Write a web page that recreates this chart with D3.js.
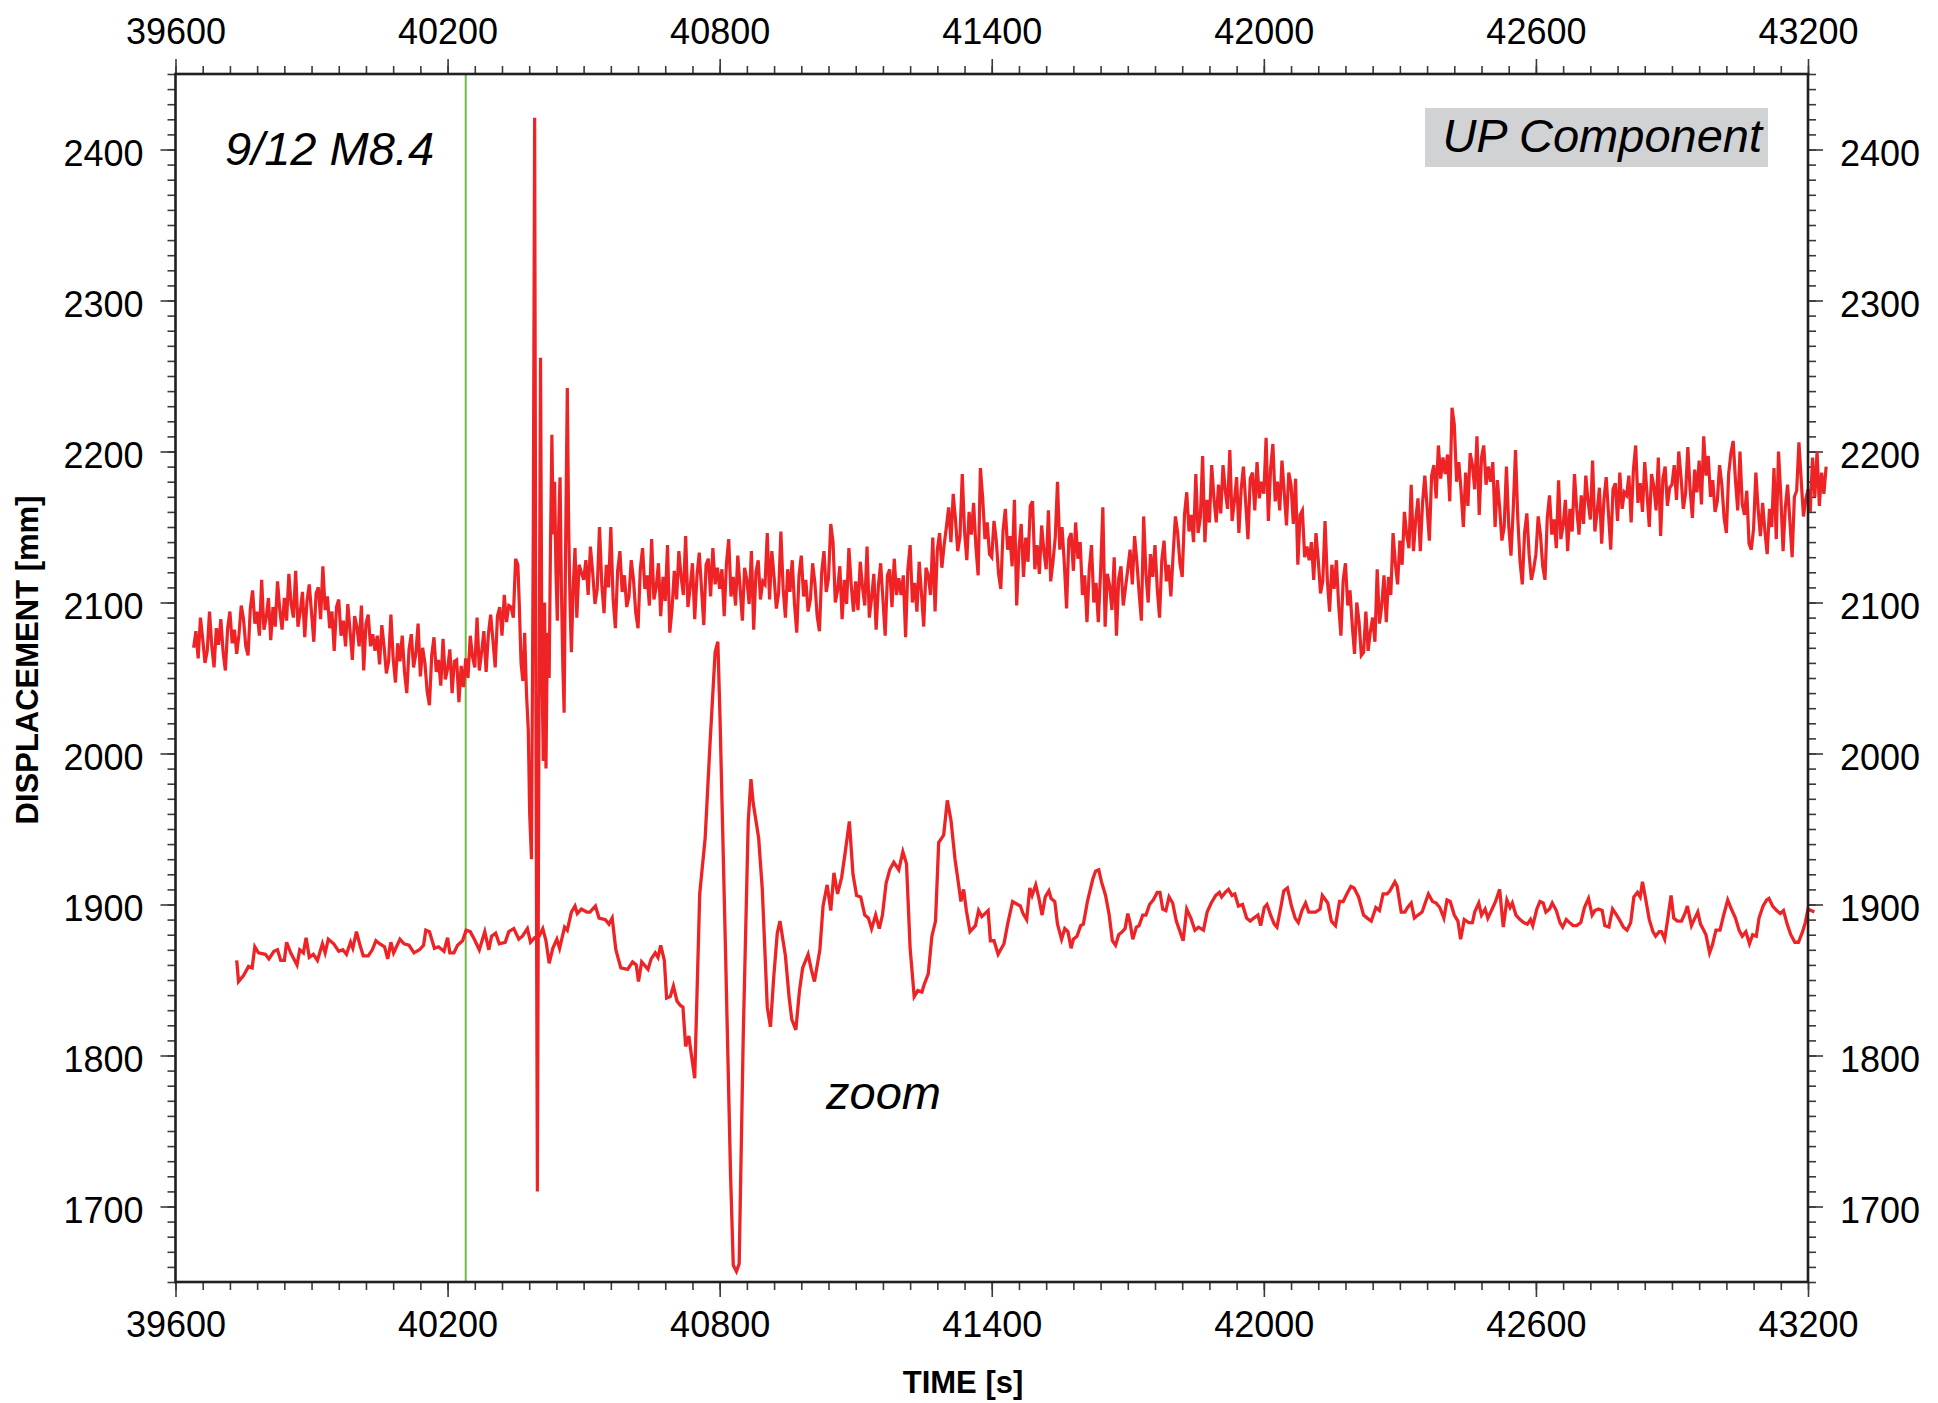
<!DOCTYPE html>
<html>
<head>
<meta charset="utf-8">
<script src="https://cdn.jsdelivr.net/npm/d3@7"></script>
<style>
body { margin: 0; background: #fff; }
svg text { font-family: 'Liberation Sans', Arial, sans-serif; }
</style>
</head>
<body>
<svg></svg>
<script>
// tick labels
var timeTicks = [39600, 40200, 40800, 41400, 42000, 42600, 43200];
var dispTicks = [1700, 1800, 1900, 2000, 2100, 2200, 2300, 2400];

// earthquake origin marker
var eventTime = 40240;

// main trace, 5 s samples before the shaking
var preStart = 39640;
var mainPre = [
	2070, 2081, 2063, 2090, 2076, 2060, 2068, 2094, 2071, 2057, 2083, 2072, 2089, 2067, 2055, 2083, 2094, 2073, 2082, 2066,
	2079, 2098, 2089, 2071, 2065, 2096, 2108, 2086, 2094, 2078, 2115, 2082, 2090, 2103, 2075, 2097, 2084, 2114, 2095, 2082,
	2103, 2088, 2119, 2099, 2090, 2121, 2084, 2094, 2107, 2077, 2101, 2112, 2093, 2074, 2106, 2110, 2089, 2124, 2095, 2104,
	2083, 2094, 2068, 2097, 2102, 2078, 2088, 2071, 2099, 2081, 2062, 2091, 2084, 2071, 2098, 2055, 2086, 2092, 2071, 2079,
	2068, 2078, 2059, 2085, 2071, 2053, 2061, 2092, 2063, 2047, 2073, 2061, 2078, 2054, 2040, 2069, 2079, 2057, 2066, 2086,
	2051, 2070, 2060, 2041, 2032, 2065, 2077, 2054, 2062, 2045, 2076, 2049, 2056, 2069, 2040, 2061, 2062, 2034, 2058, 2044,
	2063, 2050, 2078, 2064, 2057, 2090, 2055, 2067, 2081, 2054, 2079, 2092, 2075, 2057, 2091, 2097, 2078, 2105, 2087, 2098, 2097
];

// main trace during the strong motion [time, mm]
var quakeBurst = [
	[40345, 2090], [40350, 2129], [40355, 2125], [40358, 2100], [40362, 2060],
	[40366, 2048], [40370, 2080], [40374, 2040], [40378, 2015], [40381, 1960],
	[40385, 1930], [40389, 2150], [40392, 2421], [40395, 2000], [40398, 1710],
	[40401, 1980], [40405, 2262], [40408, 2060], [40411, 1995], [40414, 2100],
	[40417, 1990], [40420, 2080], [40424, 2050], [40427, 2140], [40430, 2211],
	[40433, 2145], [40436, 2180], [40439, 2120], [40442, 2088], [40445, 2150],
	[40448, 2183], [40451, 2110], [40454, 2060], [40457, 2027], [40460, 2130],
	[40464, 2242], [40467, 2150], [40470, 2100], [40473, 2067], [40477, 2110],
	[40481, 2136], [40485, 2090], [40490, 2125]
];

// main trace after the shaking, 5 s samples
var postStart = 40500;
var mainPost = [
	2115, 2128, 2105, 2137, 2120, 2099, 2109, 2150, 2112, 2093, 2125, 2110, 2150, 2102, 2083, 2121, 2134, 2107, 2118, 2097,
	2104, 2128, 2115, 2093, 2083, 2122, 2136, 2109, 2118, 2098, 2142, 2102, 2110, 2126, 2091, 2117, 2101, 2138, 2080, 2096,
	2121, 2102, 2134, 2117, 2105, 2144, 2097, 2110, 2126, 2089, 2118, 2133, 2109, 2085, 2125, 2129, 2104, 2136, 2112, 2123,
	2109, 2122, 2091, 2126, 2142, 2104, 2117, 2098, 2131, 2110, 2088, 2123, 2115, 2099, 2134, 2082, 2120, 2128, 2102, 2114,
	2112, 2146, 2102, 2134, 2117, 2096, 2106, 2147, 2109, 2090, 2122, 2107, 2128, 2099, 2080, 2118, 2131, 2104, 2115, 2094,
	2102, 2126, 2113, 2091, 2081, 2120, 2134, 2107, 2116, 2152, 2140, 2100, 2108, 2124, 2089, 2115, 2099, 2136, 2112, 2094,
	2114, 2095, 2127, 2110, 2098, 2137, 2090, 2103, 2119, 2082, 2111, 2126, 2102, 2078, 2118, 2122, 2097, 2129, 2105, 2116,
	2105, 2118, 2077, 2122, 2138, 2100, 2113, 2094, 2127, 2106, 2084, 2123, 2118, 2105, 2143, 2094, 2135, 2146, 2123, 2138,
	2150, 2163, 2140, 2172, 2155, 2134, 2144, 2185, 2147, 2128, 2160, 2145, 2166, 2137, 2118, 2189, 2169, 2142, 2153, 2132,
	2130, 2154, 2141, 2119, 2109, 2148, 2162, 2135, 2144, 2124, 2168, 2098, 2136, 2152, 2117, 2143, 2127, 2164, 2167, 2122,
	2138, 2119, 2151, 2134, 2122, 2161, 2114, 2127, 2143, 2180, 2135, 2150, 2126, 2096, 2142, 2146, 2121, 2153, 2129, 2140,
	2105, 2118, 2087, 2122, 2138, 2100, 2113, 2087, 2120, 2163, 2084, 2119, 2111, 2095, 2130, 2078, 2116, 2124, 2098, 2110,
	2122, 2135, 2112, 2144, 2127, 2106, 2088, 2157, 2119, 2100, 2132, 2117, 2138, 2109, 2090, 2128, 2141, 2114, 2125, 2104,
	2132, 2157, 2146, 2126, 2117, 2158, 2173, 2147, 2158, 2140, 2185, 2146, 2156, 2197, 2140, 2168, 2153, 2191, 2169, 2153,
	2178, 2159, 2191, 2174, 2162, 2201, 2154, 2167, 2183, 2146, 2175, 2190, 2166, 2142, 2182, 2186, 2161, 2193, 2169, 2180,
	2172, 2209, 2154, 2189, 2205, 2167, 2180, 2161, 2194, 2173, 2151, 2186, 2178, 2152, 2182, 2125, 2158, 2161, 2130, 2137,
	2128, 2140, 2115, 2146, 2128, 2106, 2114, 2154, 2115, 2094, 2125, 2109, 2128, 2098, 2078, 2115, 2126, 2098, 2108, 2085,
	2066, 2100, 2087, 2065, 2067, 2094, 2068, 2081, 2090, 2074, 2122, 2086, 2098, 2118, 2087, 2117, 2105, 2146, 2126, 2112,
	2141, 2125, 2160, 2145, 2136, 2178, 2134, 2155, 2169, 2134, 2166, 2184, 2163, 2141, 2184, 2191, 2169, 2204, 2182, 2196,
	2185, 2198, 2167, 2229, 2218, 2180, 2193, 2174, 2150, 2186, 2164, 2199, 2191, 2175, 2210, 2158, 2196, 2204, 2178, 2190,
	2180, 2193, 2150, 2181, 2163, 2141, 2150, 2190, 2151, 2131, 2162, 2201, 2156, 2127, 2112, 2146, 2159, 2132, 2115, 2122,
	2132, 2157, 2145, 2124, 2115, 2156, 2171, 2145, 2155, 2136, 2181, 2142, 2151, 2168, 2134, 2162, 2147, 2185, 2162, 2145,
	2171, 2152, 2184, 2167, 2155, 2194, 2147, 2160, 2176, 2139, 2168, 2183, 2159, 2135, 2175, 2179, 2154, 2186, 2162, 2173,
	2171, 2184, 2153, 2188, 2204, 2166, 2179, 2160, 2193, 2172, 2150, 2185, 2177, 2161, 2196, 2144, 2182, 2190, 2164, 2176,
	2178, 2191, 2168, 2200, 2183, 2162, 2172, 2203, 2175, 2156, 2188, 2173, 2194, 2165, 2210, 2184, 2197, 2170, 2181, 2160,
	2167, 2191, 2178, 2156, 2146, 2185, 2199, 2207, 2181, 2161, 2200, 2165, 2158, 2174, 2139, 2135, 2149, 2186, 2162, 2144,
	2166, 2147, 2132, 2162, 2150, 2189, 2142, 2200, 2171, 2134, 2163, 2178, 2154, 2130, 2170, 2174, 2206, 2181, 2157, 2168,
	2175, 2160, 2196, 2170, 2200, 2164, 2186, 2172, 2190
];
var mainStep = 5;

// "zoom" trace [time, mm]
var zoomTrace = [
	[39735, 1863], [39739, 1849], [39750, 1853], [39761, 1859], [39769, 1858],
	[39775, 1872], [39783, 1868], [39798, 1867], [39806, 1864], [39817, 1869],
	[39825, 1870], [39832, 1863], [39840, 1863], [39845, 1875], [39854, 1868],
	[39868, 1860], [39874, 1870], [39882, 1868], [39888, 1878], [39895, 1865],
	[39904, 1867], [39913, 1863], [39924, 1874], [39930, 1868], [39937, 1877],
	[39949, 1874], [39960, 1869], [39969, 1870], [39977, 1867], [39986, 1875],
	[39991, 1871], [39999, 1882], [40006, 1874], [40014, 1866], [40025, 1866],
	[40034, 1870], [40042, 1876], [40050, 1874], [40061, 1872], [40068, 1864],
	[40075, 1875], [40081, 1868], [40095, 1877], [40104, 1874], [40115, 1873],
	[40126, 1868], [40138, 1870], [40147, 1873], [40152, 1883], [40160, 1882],
	[40171, 1871], [40180, 1872], [40192, 1869], [40200, 1878], [40205, 1868],
	[40214, 1868], [40222, 1873], [40233, 1876], [40241, 1883], [40250, 1882],
	[40259, 1877], [40270, 1870], [40282, 1882], [40291, 1870], [40297, 1879],
	[40306, 1881], [40314, 1874], [40327, 1875], [40335, 1882], [40346, 1884],
	[40357, 1877], [40365, 1879], [40376, 1884], [40383, 1875], [40392, 1878],
	[40402, 1879], [40410, 1884], [40417, 1876], [40424, 1861], [40432, 1871],
	[40441, 1877], [40447, 1871], [40458, 1885], [40464, 1883], [40473, 1895],
	[40481, 1899], [40486, 1894], [40495, 1897], [40507, 1895], [40514, 1895],
	[40526, 1899], [40534, 1891], [40548, 1890], [40556, 1887], [40563, 1891],
	[40571, 1870], [40582, 1858], [40597, 1857], [40608, 1862], [40616, 1860],
	[40621, 1849], [40628, 1862], [40642, 1857], [40649, 1864], [40658, 1868],
	[40664, 1865], [40670, 1873], [40678, 1863], [40683, 1838], [40691, 1839],
	[40698, 1846], [40706, 1836], [40714, 1833], [40719, 1832], [40725, 1806],
	[40732, 1813], [40736, 1804], [40745, 1785], [40756, 1907], [40768, 1944],
	[40779, 2008], [40790, 2067], [40796, 2074], [40801, 2021], [40813, 1868],
	[40824, 1721], [40830, 1661], [40837, 1657], [40843, 1662], [40852, 1813],
	[40863, 1955], [40869, 1983], [40874, 1967], [40886, 1944], [40894, 1910],
	[40905, 1832], [40912, 1819], [40919, 1851], [40927, 1881], [40933, 1889],
	[40945, 1866], [40953, 1839], [40959, 1824], [40968, 1817], [40976, 1843],
	[40983, 1858], [40995, 1867], [41002, 1857], [41009, 1849], [41021, 1870],
	[41028, 1899], [41037, 1913], [41045, 1896], [41052, 1921], [41060, 1907],
	[41069, 1918], [41077, 1935], [41086, 1955], [41094, 1920], [41102, 1906],
	[41111, 1905], [41120, 1893], [41128, 1891], [41135, 1884], [41144, 1893],
	[41152, 1884], [41159, 1893], [41167, 1914], [41175, 1923], [41184, 1928],
	[41195, 1923], [41204, 1935], [41212, 1927], [41220, 1871], [41229, 1839],
	[41237, 1843], [41246, 1842], [41251, 1847], [41260, 1854], [41268, 1879],
	[41276, 1889], [41283, 1941], [41294, 1946], [41302, 1969], [41310, 1956],
	[41319, 1930], [41327, 1913], [41332, 1902], [41338, 1910], [41344, 1896],
	[41352, 1882], [41364, 1886], [41371, 1896], [41378, 1892], [41392, 1896],
	[41397, 1876], [41405, 1876], [41414, 1867], [41427, 1874], [41435, 1887],
	[41446, 1902], [41457, 1900], [41463, 1899], [41469, 1894], [41477, 1890],
	[41484, 1911], [41489, 1906], [41497, 1913], [41504, 1904], [41511, 1893],
	[41518, 1905], [41526, 1909], [41531, 1904], [41539, 1902], [41545, 1887],
	[41554, 1877], [41561, 1884], [41568, 1882], [41575, 1871], [41580, 1877],
	[41588, 1879], [41596, 1886], [41602, 1887], [41611, 1902], [41623, 1917],
	[41629, 1922], [41636, 1923], [41642, 1915], [41651, 1906], [41659, 1893],
	[41666, 1876], [41673, 1873], [41680, 1880], [41688, 1882], [41694, 1884],
	[41700, 1894], [41705, 1888], [41711, 1877], [41719, 1885], [41725, 1886],
	[41733, 1893], [41740, 1893], [41748, 1900], [41756, 1903], [41765, 1908],
	[41771, 1908], [41777, 1897], [41784, 1896], [41791, 1905], [41799, 1901],
	[41807, 1889], [41814, 1883], [41822, 1876], [41830, 1897], [41839, 1891],
	[41848, 1883], [41856, 1885], [41867, 1883], [41875, 1895], [41884, 1901],
	[41894, 1906], [41902, 1908], [41907, 1905], [41915, 1908], [41922, 1910],
	[41930, 1906], [41936, 1907], [41944, 1899], [41953, 1900], [41962, 1891],
	[41970, 1889], [41978, 1891], [41987, 1893], [41993, 1886], [42001, 1898],
	[42007, 1900], [42015, 1893], [42023, 1887], [42029, 1885], [42038, 1899],
	[42044, 1909], [42052, 1911], [42061, 1899], [42069, 1891], [42076, 1888],
	[42084, 1896], [42092, 1901], [42099, 1895], [42106, 1895], [42114, 1895],
	[42124, 1897], [42129, 1906], [42141, 1901], [42149, 1889], [42158, 1886],
	[42167, 1902], [42175, 1902], [42183, 1907], [42192, 1912], [42199, 1911],
	[42209, 1905], [42220, 1893], [42228, 1891], [42237, 1889], [42247, 1898],
	[42255, 1896], [42263, 1907], [42272, 1907], [42278, 1909], [42289, 1915],
	[42294, 1912], [42303, 1895], [42311, 1895], [42317, 1898], [42325, 1901],
	[42332, 1891], [42340, 1893], [42349, 1895], [42357, 1902], [42363, 1907],
	[42372, 1902], [42380, 1901], [42388, 1898], [42397, 1891], [42404, 1903],
	[42411, 1902], [42420, 1893], [42428, 1889], [42434, 1877], [42442, 1890],
	[42452, 1888], [42460, 1888], [42465, 1895], [42474, 1901], [42480, 1893],
	[42488, 1897], [42494, 1891], [42502, 1896], [42511, 1902], [42520, 1910],
	[42528, 1885], [42536, 1903], [42543, 1898], [42548, 1901], [42556, 1893],
	[42565, 1890], [42573, 1888], [42581, 1887], [42588, 1890], [42593, 1886],
	[42602, 1897], [42609, 1902], [42616, 1901], [42622, 1895], [42630, 1897],
	[42636, 1901], [42645, 1896], [42653, 1888], [42659, 1885], [42667, 1890],
	[42674, 1888], [42682, 1886], [42690, 1886], [42699, 1888], [42707, 1898],
	[42716, 1904], [42724, 1893], [42730, 1896], [42738, 1897], [42746, 1896],
	[42752, 1886], [42761, 1885], [42769, 1897], [42778, 1893], [42784, 1890],
	[42793, 1885], [42801, 1883], [42809, 1888], [42816, 1905], [42824, 1908],
	[42830, 1905], [42835, 1915], [42843, 1902], [42850, 1890], [42858, 1882],
	[42864, 1879], [42872, 1882], [42877, 1882], [42884, 1877], [42892, 1893],
	[42898, 1906], [42904, 1891], [42912, 1889], [42921, 1889], [42930, 1895],
	[42934, 1899], [42943, 1886], [42949, 1890], [42957, 1895], [42963, 1887],
	[42970, 1883], [42975, 1880], [42983, 1868], [42989, 1873], [42997, 1883],
	[43006, 1883], [43014, 1893], [43023, 1903], [43031, 1897], [43040, 1891],
	[43048, 1883], [43055, 1879], [43063, 1882], [43071, 1874], [43078, 1880],
	[43086, 1879], [43092, 1891], [43101, 1899], [43109, 1903], [43114, 1904],
	[43122, 1899], [43131, 1896], [43139, 1894], [43146, 1896], [43154, 1887],
	[43162, 1880], [43171, 1875], [43179, 1875], [43188, 1882], [43194, 1888],
	[43200, 1897], [43214, 1895]
];

var width = 1938;
var height = 1403;
var margin = {
	top: 74,
	left: 175.5
};
var plotW = 1808 - margin.left;
var plotH = 1282 - margin.top;

var svg = d3.select('svg')
	.attr('width', width)
	.attr('height', height);

var g = svg.append('g')
	.attr('transform', `translate(${margin.left},${margin.top})`);

var x = d3.scaleLinear()
	.domain([39600, 43200])
	.range([0, plotW]);

var y = d3.scaleLinear()
	.domain([1650, 2450])
	.range([plotH, 0]);

var minorTime = d3.range(39600, 43201, 60);
var minorDisp = d3.range(1650, 2451, 10);

function addAxis(axisFn, scale, transform, majors, minors, padding) {
	var minor = g.append('g')
		.attr('transform', transform)
		.call(axisFn(scale).tickValues(minors).tickSize(8).tickFormat(''));
	var major = g.append('g')
		.attr('transform', transform)
		.call(axisFn(scale).tickValues(majors).tickSize(15).tickPadding(padding).tickFormat(d3.format('d')));
	[minor, major].forEach(function(a) {
		a.select('.domain').remove();
		a.selectAll('.tick line').attr('stroke', '#3a3a3a').attr('stroke-width', 1.6);
	});
	major.selectAll('.tick text')
		.attr('fill', '#000')
		.style('font-size', '36px');
	return major;
}

addAxis(d3.axisBottom, x, `translate(0,${plotH})`, timeTicks, minorTime, 14);
addAxis(d3.axisTop, x, 'translate(0,0)', timeTicks, minorTime, 15);
addAxis(d3.axisLeft, y, 'translate(0,0)', dispTicks, minorDisp, 17)
	.selectAll('.tick text').attr('dy', '0.44em');
addAxis(d3.axisRight, y, `translate(${plotW},0)`, dispTicks, minorDisp, 17)
	.selectAll('.tick text').attr('dy', '0.44em');

// event line
g.append('line')
	.attr('x1', x(eventTime))
	.attr('x2', x(eventTime))
	.attr('y1', 0)
	.attr('y2', plotH)
	.attr('stroke', '#6cbd45')
	.attr('stroke-width', 2);

var mainTrace = mainPre.map(function(v, i) { return [preStart + i * mainStep, v]; })
	.concat(quakeBurst)
	.concat(mainPost.map(function(v, i) { return [postStart + i * mainStep, v]; }));

var line = d3.line()
	.x(function(d) { return x(d[0]); })
	.y(function(d) { return y(d[1]); });

g.append('path')
	.attr('d', line(mainTrace))
	.attr('fill', 'none')
	.attr('stroke', '#ee2326')
	.attr('stroke-width', 3.2);

g.append('path')
	.attr('d', line(zoomTrace))
	.attr('fill', 'none')
	.attr('stroke', '#ee2326')
	.attr('stroke-width', 3.3);

// frame
g.append('rect')
	.attr('width', plotW)
	.attr('height', plotH)
	.attr('fill', 'none')
	.attr('stroke', '#231f20')
	.attr('stroke-width', 2.6);

// annotations
svg.append('text')
	.attr('x', 225)
	.attr('y', 165)
	.style('font-size', '47px')
	.style('font-style', 'italic')
	.text('9/12 M8.4');

svg.append('rect')
	.attr('x', 1425)
	.attr('y', 108)
	.attr('width', 343)
	.attr('height', 59)
	.attr('fill', '#d1d2d4');

svg.append('text')
	.attr('x', 1762)
	.attr('y', 152)
	.attr('text-anchor', 'end')
	.style('font-size', '47px')
	.style('font-style', 'italic')
	.text('UP Component');

svg.append('text')
	.attr('x', 826)
	.attr('y', 1109)
	.style('font-size', '47px')
	.style('font-style', 'italic')
	.text('zoom');

svg.append('text')
	.attr('x', 963)
	.attr('y', 1393)
	.attr('text-anchor', 'middle')
	.style('font-size', '31px')
	.style('font-weight', 'bold')
	.text('TIME [s]');

svg.append('text')
	.attr('transform', 'translate(38,660) rotate(-90)')
	.attr('text-anchor', 'middle')
	.style('font-size', '31px')
	.style('font-weight', 'bold')
	.text('DISPLACEMENT [mm]');
</script>
</body>
</html>
